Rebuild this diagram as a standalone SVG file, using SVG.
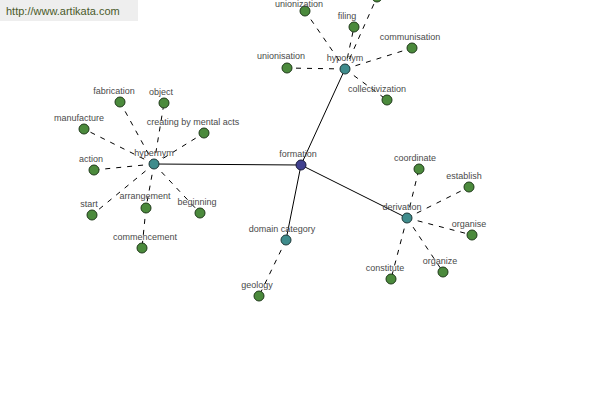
<svg xmlns="http://www.w3.org/2000/svg" width="600" height="400" viewBox="0 0 600 400">
<style>
.s{stroke:#000;stroke-width:1;fill:none}
.d{stroke:#000;stroke-width:1;fill:none;stroke-dasharray:5,6}
.g{fill:#4b8a3c;stroke:#1f3a1a;stroke-width:1}
.t{fill:#3f8c8c;stroke:#1f3a3a;stroke-width:1}
.f{fill:#40408f;stroke:#1a1a3a;stroke-width:1}
text{font-family:"Liberation Sans",Arial,sans-serif;font-size:9px;fill:#4a4a4a;text-anchor:middle}
</style>
<rect x="0" y="0" width="600" height="400" fill="#fff"/>
<g id="watermark">
<rect x="0" y="0" width="138" height="21" fill="#eeeeee"/>
<text x="6" y="15" style="font-size:11px;fill:#4a5a2a;text-anchor:start">http://www.artikata.com</text>
</g>
<g id="connectors">
<line class="s" x1="301" y1="165" x2="154" y2="164"/>
<line class="s" x1="301" y1="165" x2="345" y2="69"/>
<line class="s" x1="301" y1="165" x2="407" y2="218"/>
<line class="s" x1="301" y1="165" x2="286" y2="240"/>
<line class="d" x1="154" y1="164" x2="120" y2="102"/>
<line class="d" x1="154" y1="164" x2="164" y2="103"/>
<line class="d" x1="154" y1="164" x2="84" y2="129"/>
<line class="d" x1="154" y1="164" x2="204" y2="133"/>
<line class="d" x1="154" y1="164" x2="94" y2="170"/>
<line class="d" x1="154" y1="164" x2="92" y2="215"/>
<line class="d" x1="154" y1="164" x2="146" y2="208"/>
<line class="d" x1="154" y1="164" x2="200" y2="213"/>
<line class="d" x1="146" y1="208" x2="142" y2="248"/>
<line class="d" x1="345" y1="69" x2="305" y2="11"/>
<line class="d" x1="345" y1="69" x2="354" y2="27"/>
<line class="d" x1="345" y1="69" x2="377" y2="-3"/>
<line class="d" x1="345" y1="69" x2="287" y2="68"/>
<line class="d" x1="345" y1="69" x2="412" y2="48"/>
<line class="d" x1="345" y1="69" x2="387" y2="100"/>
<line class="d" x1="407" y1="218" x2="419" y2="169"/>
<line class="d" x1="407" y1="218" x2="469" y2="187"/>
<line class="d" x1="407" y1="218" x2="472" y2="235"/>
<line class="d" x1="407" y1="218" x2="443" y2="272"/>
<line class="d" x1="407" y1="218" x2="391" y2="279"/>
<line class="d" x1="286" y1="240" x2="259" y2="296"/>
</g>
<g id="n-formation"><circle class="f" cx="301" cy="165" r="5"/><text x="298" y="157">formation</text></g>
<g id="n-hypernym"><circle class="t" cx="154" cy="164" r="5"/><text x="154" y="156">hypernym</text></g>
<g id="n-hyponym"><circle class="t" cx="345" cy="69" r="5"/><text x="345" y="61">hyponym</text></g>
<g id="n-derivation"><circle class="t" cx="407" cy="218" r="5"/><text x="402" y="210">derivation</text></g>
<g id="n-domain"><circle class="t" cx="286" cy="240" r="5"/><text x="282" y="232">domain category</text></g>
<g id="n-fabrication"><circle class="g" cx="120" cy="102" r="5"/><text x="114" y="94">fabrication</text></g>
<g id="n-object"><circle class="g" cx="164" cy="103" r="5"/><text x="161" y="95">object</text></g>
<g id="n-manufacture"><circle class="g" cx="84" cy="129" r="5"/><text x="79" y="121">manufacture</text></g>
<g id="n-creating"><circle class="g" cx="204" cy="133" r="5"/><text x="193" y="125">creating by mental acts</text></g>
<g id="n-action"><circle class="g" cx="94" cy="170" r="5"/><text x="91" y="162">action</text></g>
<g id="n-start"><circle class="g" cx="92" cy="215" r="5"/><text x="89" y="207">start</text></g>
<g id="n-arrangement"><circle class="g" cx="146" cy="208" r="5"/><text x="145" y="199">arrangement</text></g>
<g id="n-beginning"><circle class="g" cx="200" cy="213" r="5"/><text x="197" y="205">beginning</text></g>
<g id="n-commencement"><circle class="g" cx="142" cy="248" r="5"/><text x="145" y="240">commencement</text></g>
<g id="n-unionization"><circle class="g" cx="305" cy="11" r="5"/><text x="299" y="7">unionization</text></g>
<g id="n-filing"><circle class="g" cx="354" cy="27" r="5"/><text x="347" y="19">filing</text></g>
<g id="n-offscreen"><circle class="g" cx="377" cy="-3" r="5"/></g>
<g id="n-unionisation"><circle class="g" cx="287" cy="68" r="5"/><text x="281" y="59">unionisation</text></g>
<g id="n-communisation"><circle class="g" cx="412" cy="48" r="5"/><text x="410" y="40">communisation</text></g>
<g id="n-collectivization"><circle class="g" cx="387" cy="100" r="5"/><text x="377" y="92">collectivization</text></g>
<g id="n-coordinate"><circle class="g" cx="419" cy="169" r="5"/><text x="415" y="161">coordinate</text></g>
<g id="n-establish"><circle class="g" cx="469" cy="187" r="5"/><text x="464" y="179">establish</text></g>
<g id="n-organise"><circle class="g" cx="472" cy="235" r="5"/><text x="469" y="227">organise</text></g>
<g id="n-organize"><circle class="g" cx="443" cy="272" r="5"/><text x="440" y="264">organize</text></g>
<g id="n-constitute"><circle class="g" cx="391" cy="279" r="5"/><text x="385" y="271">constitute</text></g>
<g id="n-geology"><circle class="g" cx="259" cy="296" r="5"/><text x="257" y="288">geology</text></g>
</svg>
